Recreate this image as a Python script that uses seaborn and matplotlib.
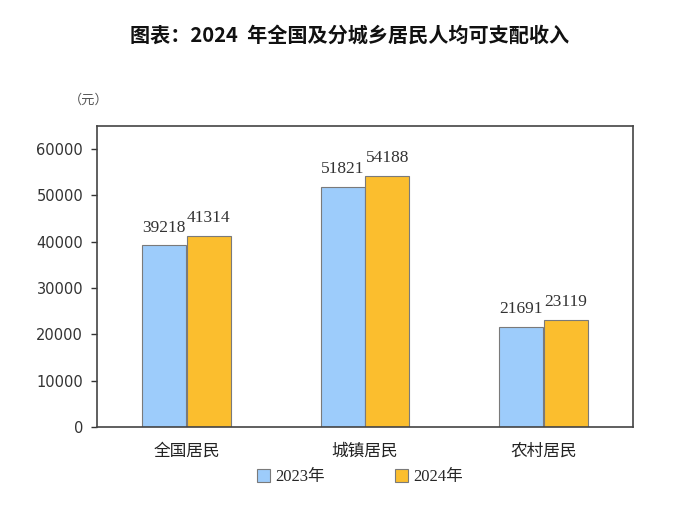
import pandas as pd
import seaborn as sns
import matplotlib.pyplot as plt
from matplotlib.patches import Patch

categories = ["全国居民", "城镇居民", "农村居民"]
years = ["2023年", "2024年"]
income_2023 = [39218, 51821, 21691]
income_2024 = [41314, 54188, 23119]

df = pd.DataFrame({
    "cat": categories * 2,
    "year": [years[0]] * 3 + [years[1]] * 3,
    "value": income_2023 + income_2024,
})

sns.set_style("white")
plt.rcParams['font.family'] = ['Noto Sans CJK SC', 'DejaVu Sans']

fig = plt.figure(figsize=(6.99, 5.32), dpi=100)
ax = fig.add_axes([0.1388, 0.1974, 0.7668, 0.5658])

palette = {"2023年": "#9DCCFB", "2024年": "#FBBE2E"}
sns.barplot(data=df, x="cat", y="value", hue="year", palette=palette,
            width=0.5, gap=0.02, edgecolor="#7a7a7a", linewidth=0.8,
            saturation=1, ax=ax, legend=False)

# etiquettes de valeurs
for cont in ax.containers:
    ax.bar_label(cont, fmt="%d", padding=7, fontsize=12.5,
                 family="Liberation Serif", color="#333333")

ax.set_xlim(-0.5, 2.5)
ax.set_ylim(0, 65000)
ax.set_yticks(range(0, 60001, 10000))
ax.set_xlabel("")
ax.set_ylabel("")
ax.tick_params(axis="y", left=True, length=4, width=1, color="#333333",
               labelsize=10.5, labelcolor="#333333", pad=6)
ax.tick_params(axis="x", bottom=False, labelsize=12, labelcolor="#222222", pad=8)
for lab in ax.get_yticklabels():
    lab.set_family("DejaVu Sans")
for sp in ax.spines.values():
    sp.set_color("#444444")
    sp.set_linewidth(1.2)

fig.text(0.5, 0.934, "图表：2024  年全国及分城乡居民人均可支配收入",
         ha="center", va="center", fontsize=14.5, fontweight="bold", color="#111111")
fig.text(0.098, 0.811, "（元）", ha="left", va="center", fontsize=9.5, color="#555555")

# légende
handles = [Patch(facecolor=palette[y], edgecolor="#7a7a7a", linewidth=0.8) for y in years]
fig.legend(handles, years, loc="center", bbox_to_anchor=(0.515, 0.103), ncol=2,
           frameon=False, handlelength=0.8, handleheight=0.8, handletextpad=0.3,
           columnspacing=4.2,
           prop={"family": ["Liberation Serif", "Noto Sans CJK SC"], "size": 12})

fig.savefig("out.png", dpi=100)
